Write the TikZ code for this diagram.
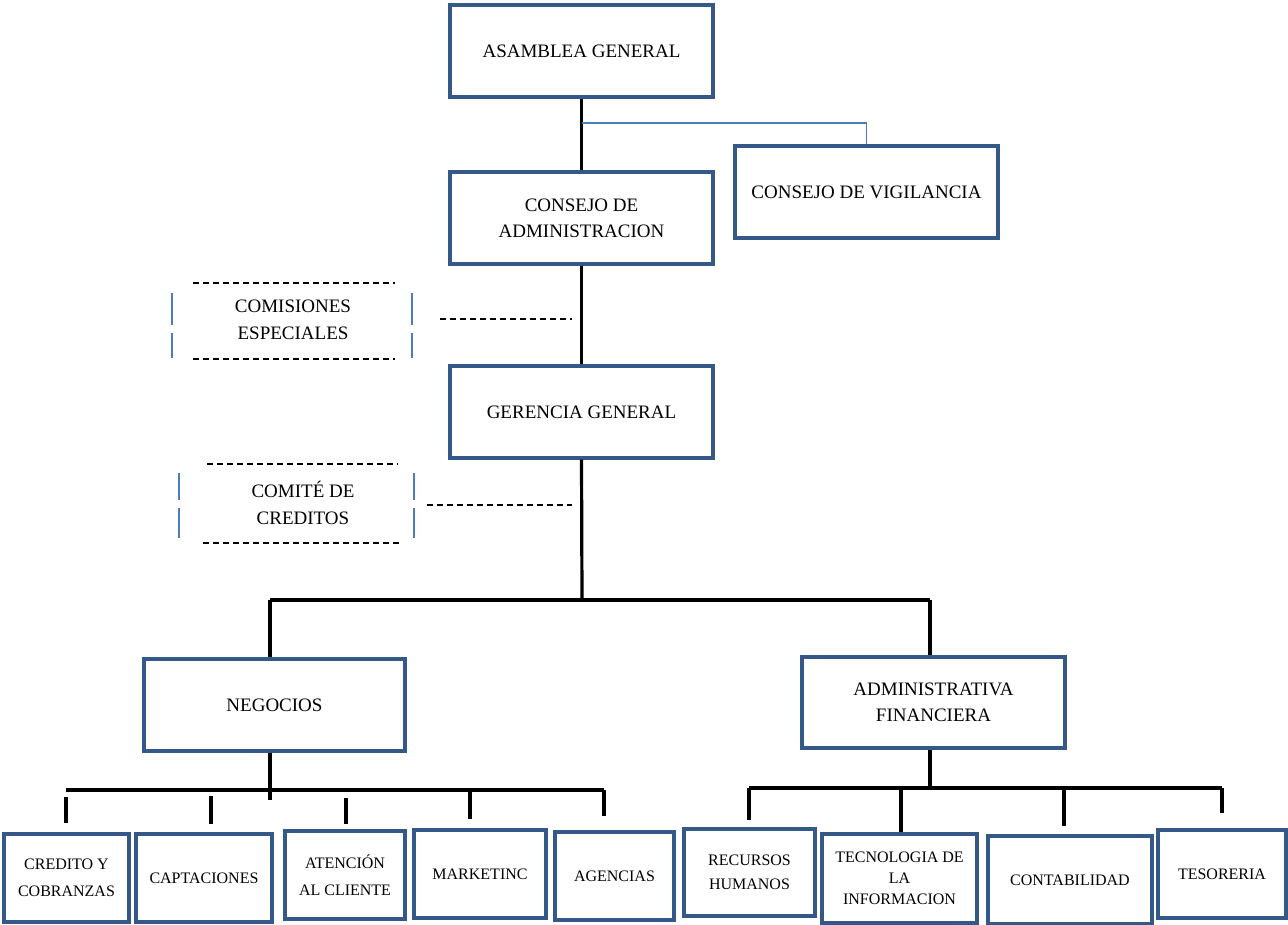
\documentclass[tikz,border=0pt]{standalone}
\usepackage{fontspec}
\setmainfont{Liberation Serif}
\definecolor{boxblue}{RGB}{52,88,136}
\definecolor{lineblue}{RGB}{74,126,187}
\begin{document}
\begin{tikzpicture}[x=1pt,y=-1pt,
 box/.style={draw=boxblue, line width=3.2pt, fill=white, align=center, inner sep=2pt, font=\fontsize{19}{26}\selectfont},
 sbox/.style={box, font=\fontsize{16}{27}\selectfont},
 tx/.style={align=center, font=\fontsize{19}{27}\selectfont},
 conn/.style={line width=3.2pt, black},
 dsh/.style={black, line width=1.1pt, dash pattern=on 6pt off 4pt},
 bl/.style={lineblue, line width=1.1pt}]
\useasboundingbox (0,0) rectangle (1288,925);
% main boxes
\node[box, minimum width=263pt, minimum height=92pt] (asam) at (581.5,51) {ASAMBLEA GENERAL};
\node[box, minimum width=263pt, minimum height=92pt] (cadm) at (581.5,218) {CONSEJO DE\\ADMINISTRACION};
\node[box, minimum width=263pt, minimum height=92pt] (cvig) at (866.5,192) {CONSEJO DE VIGILANCIA};
\node[box, minimum width=263pt, minimum height=92pt] (ger) at (581.5,412) {GERENCIA GENERAL};
\node[box, minimum width=261pt, minimum height=92pt] (neg) at (274.5,705) {NEGOCIOS};
\node[box, minimum width=263pt, minimum height=91pt] (adm) at (933.5,702.5) {ADMINISTRATIVA\\FINANCIERA};
% bottom row
\node[sbox, minimum width=125pt, minimum height=88pt] (cred) at (66.5,878) {CREDITO Y\\COBRANZAS};
\node[sbox, minimum width=136pt, minimum height=88pt] (capt) at (204,878) {CAPTACIONES};
\node[sbox, minimum width=120pt, minimum height=88pt] (aten) at (345,875) {ATENCIÓN\\AL CLIENTE};
\node[sbox, minimum width=132pt, minimum height=88pt] (mark) at (480,874) {MARKETINC};
\node[sbox, minimum width=119pt, minimum height=88pt] (agen) at (614.5,876) {AGENCIAS};
\node[sbox, minimum width=131pt, minimum height=87pt, font=\fontsize{16}{24}\selectfont] (rrhh) at (749.5,872.5) {RECURSOS\\HUMANOS};
\node[sbox, minimum width=155pt, minimum height=89pt, font=\fontsize{16}{21}\selectfont] (tec) at (899.5,878.5) {TECNOLOGIA DE\\LA\\INFORMACION};
\node[sbox, minimum width=164pt, minimum height=88pt] (cont) at (1070,880) {CONTABILIDAD};
\node[sbox, minimum width=128pt, minimum height=88pt] (teso) at (1222,874) {TESORERIA};
% dashed side boxes
\node[tx] (comi) at (293,320) {COMISIONES\\ESPECIALES};
\node[tx] (comt) at (303,503) {COMITÉ DE\\CREDITOS};
\draw[dsh] (193,283) -- (395,283);
\draw[dsh] (193,359) -- (395,359);
\draw[bl] (172,293) -- (172,325) (172,333) -- (172,358);
\draw[bl] (412,293) -- (412,325) (412,333) -- (412,358);
\draw[dsh] (207,464) -- (398,464);
\draw[dsh] (203,543) -- (400,543);
\draw[bl] (179,473) -- (179,500) (179,508) -- (179,538);
\draw[bl] (414,473) -- (414,500) (414,508) -- (414,538);
% connectors
\draw[conn] (asam.south) -- (cadm.north);
\coordinate (j1) at (582,123);
\draw[bl] (j1) -| (cvig.north);
\draw[conn] (cadm.south) -- (ger.north);
\coordinate (j2) at (582,600);
\draw[conn] (ger.south) -- (j2);
\coordinate (c1) at (440,319);
\coordinate (c1e) at (572,319);
\draw[dsh] (c1) -- (c1e);
\coordinate (c2) at (427,505);
\coordinate (c2e) at (572,505);
\draw[dsh] (c2) -- (c2e);
\coordinate (bL) at (270,600);
\coordinate (bR) at (930,600);
\draw[conn] (bL) -- (bR);
\draw[conn] (bL) -- (bL |- neg.north);
\draw[conn] (bR) -- (bR |- adm.north);
% left bus
\coordinate (n0) at (270,800);
\draw[conn] (n0 |- neg.south) -- (n0);
\coordinate (nl) at (66,790);
\coordinate (nr) at (604,790);
\draw[conn] (nl) -- (nr);
\coordinate (d1) at (66,797);
\coordinate (d2) at (211,796);
\coordinate (d3) at (346,798);
\coordinate (d4) at (470,792);
\coordinate (d5) at (604,790);
\draw[conn] (d1) -- ([yshift=9pt]d1 |- cred.north);
\draw[conn] (d2) -- ([yshift=8pt]d2 |- capt.north);
\draw[conn] (d3) -- ([yshift=5pt]d3 |- aten.north);
\draw[conn] (d4) -- ([yshift=9pt]d4 |- mark.north);
\draw[conn] (d5) -- ([yshift=14pt]d5 |- agen.north);
% right bus
\coordinate (m0) at (930,788);
\draw[conn] (m0 |- adm.south) -- (m0);
\coordinate (ml) at (749,788);
\coordinate (mr) at (1222,788);
\draw[conn] (ml) -- (mr);
\coordinate (e2) at (901,788);
\coordinate (e3) at (1064,788);
\draw[conn] (ml) -- ([yshift=7pt]ml |- rrhh.north);
\draw[conn] (e2) -- (e2 |- tec.north);
\draw[conn] (e3) -- ([yshift=8pt]e3 |- cont.north);
\draw[conn] (mr) -- ([yshift=15pt]mr |- teso.north);
\end{tikzpicture}
\end{document}
